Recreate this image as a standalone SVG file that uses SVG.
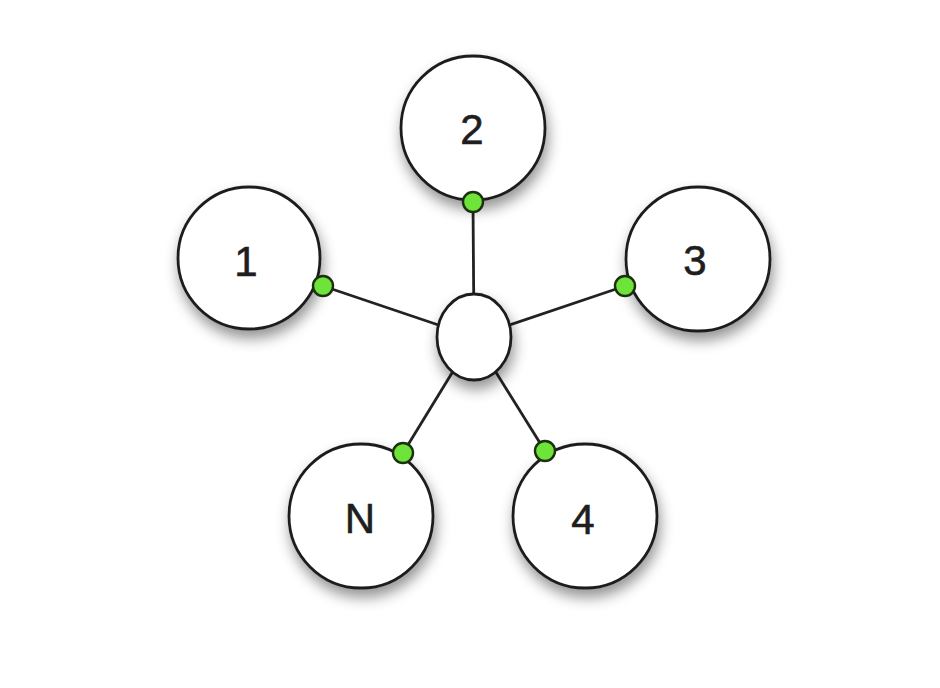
<svg xmlns="http://www.w3.org/2000/svg" width="940" height="688" viewBox="0 0 940 688">
<defs>
<filter id="sh" x="-30%" y="-30%" width="160%" height="170%">
<feDropShadow dx="2" dy="8" stdDeviation="7" flood-color="#000" flood-opacity="0.42"/>
</filter>
<style>
.node{fill:#fff;stroke:#1e1e1e;stroke-width:2.8;filter:url(#sh)}
.port{fill:#6ee43a;stroke:#1c3010;stroke-width:2.4}
.edge{stroke:#222;stroke-width:2.8;fill:none}
.lbl{font-family:"Liberation Sans",Arial,sans-serif;font-size:42px;fill:#1e1e1e;stroke:#1e1e1e;stroke-width:0.6;text-anchor:middle;dominant-baseline:central}
</style>
</defs>
<rect width="940" height="688" fill="#fff"/>
<g id="connectors">
<line class="edge" x1="474" y1="337" x2="473" y2="202"/>
<line class="edge" x1="474" y1="337" x2="323" y2="286"/>
<line class="edge" x1="474" y1="337" x2="625" y2="286"/>
<line class="edge" x1="474" y1="337" x2="403" y2="453"/>
<line class="edge" x1="474" y1="337" x2="545" y2="451"/>
</g>
<g id="hub">
<ellipse class="node" cx="474" cy="337" rx="37" ry="43"/>
</g>
<g id="node1">
<circle class="node" cx="249" cy="258" r="71"/>
<text class="lbl" x="246" y="261">1</text>
<circle class="port" cx="323" cy="286" r="10"/>
</g>
<g id="node2">
<circle class="node" cx="473" cy="128" r="72"/>
<text class="lbl" x="472" y="129">2</text>
<circle class="port" cx="473" cy="202" r="10"/>
</g>
<g id="node3">
<circle class="node" cx="698" cy="259" r="72"/>
<text class="lbl" x="695" y="260">3</text>
<circle class="port" cx="625" cy="286" r="10"/>
</g>
<g id="nodeN">
<circle class="node" cx="361" cy="516" r="72"/>
<text class="lbl" x="360" y="518">N</text>
<circle class="port" cx="403" cy="453" r="10"/>
</g>
<g id="node4">
<circle class="node" cx="585" cy="516" r="72"/>
<text class="lbl" x="583" y="519">4</text>
<circle class="port" cx="545" cy="451" r="10"/>
</g>
</svg>
